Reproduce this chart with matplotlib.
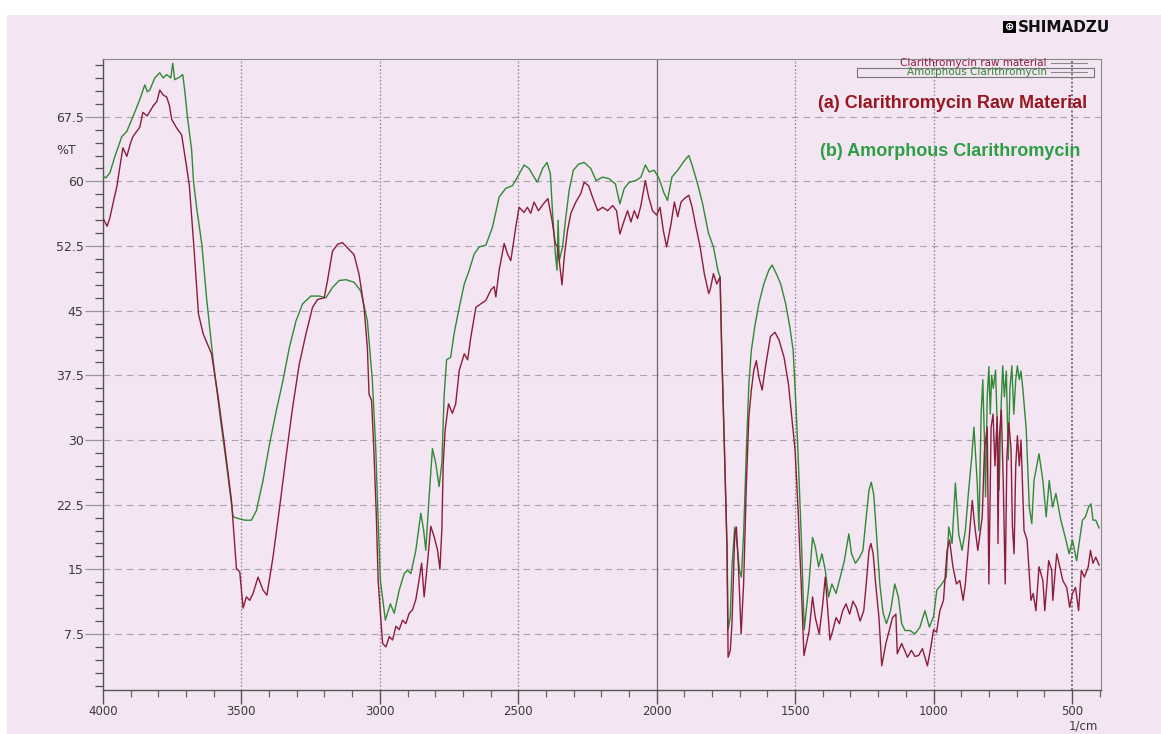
import numpy as np
import matplotlib.pyplot as plt
from matplotlib.patches import Rectangle
from matplotlib.lines import Line2D
from matplotlib.ticker import MultipleLocator

# FTIR spectra, wavenumber (1/cm) vs %T
raw_wn = [3998, 3985, 3975, 3960, 3950, 3940, 3928, 3914, 3900, 3892, 3867, 3856, 3840, 3820, 3805,
          3795, 3782, 3770, 3760, 3752, 3734, 3716, 3698, 3688, 3673, 3655, 3638, 3608, 3584, 3560,
          3536, 3518, 3506, 3494, 3482, 3470, 3458, 3440, 3422, 3408, 3386, 3362, 3339, 3315, 3291,
          3267, 3243, 3225, 3201, 3189, 3171, 3153, 3135, 3117, 3093, 3075, 3057, 3045, 3039, 3030,
          3022, 3013, 3006, 2998, 2990, 2978, 2966, 2954, 2942, 2930, 2918, 2906, 2894, 2882, 2870,
          2858, 2849, 2840, 2828, 2816, 2804, 2792, 2783, 2776, 2771, 2764, 2752, 2738, 2726, 2713,
          2695, 2683, 2671, 2653, 2635, 2617, 2599, 2587, 2581, 2569, 2551, 2539, 2527, 2509, 2497,
          2479, 2467, 2455, 2443, 2427, 2409, 2393, 2378, 2366, 2358, 2352, 2342, 2334, 2322, 2310,
          2292, 2274, 2262, 2246, 2232, 2213, 2195, 2177, 2159, 2145, 2133, 2117, 2105, 2093, 2081,
          2069, 2057, 2041, 2029, 2015, 2000, 1988, 1976, 1964, 1948, 1936, 1924, 1912, 1900, 1884,
          1872, 1858, 1850, 1843, 1828, 1812, 1807, 1795, 1783, 1771, 1765, 1755, 1746, 1742, 1734,
          1728, 1718, 1712, 1704, 1695, 1686, 1676, 1667, 1658, 1649, 1640, 1631, 1619, 1607, 1589,
          1573, 1558, 1540, 1524, 1512, 1500, 1488, 1478, 1468, 1459, 1449, 1437, 1427, 1413, 1400,
          1391, 1382, 1374, 1364, 1352, 1340, 1328, 1316, 1303, 1291, 1279, 1265, 1252, 1243, 1233,
          1226, 1218, 1209, 1197, 1187, 1172, 1160, 1148, 1136, 1131, 1115, 1094, 1080, 1067, 1054,
          1040, 1022, 1009, 1000, 989, 977, 964, 951, 942, 930, 917, 905, 893, 885, 873,
          860, 852, 840, 824, 816, 806, 800, 792, 785, 778, 770, 767, 763, 755, 748,
          741, 735, 728, 720, 715, 709, 703, 697, 690, 684, 673, 662, 648, 640, 630,
          619, 605, 598, 584, 573, 569, 555, 544, 533, 519, 508, 498, 487, 476, 466,
          455, 441, 433, 424, 414, 402]
raw_t = [55.6, 54.8, 55.8, 58.0, 59.4, 61.5, 63.9, 62.9, 64.5, 65.2, 66.3, 68.0, 67.6, 68.7, 69.3,
         70.6, 70.0, 69.8, 68.8, 67.2, 66.2, 65.4, 61.7, 59.5, 53.0, 44.6, 42.3, 40.0, 35.0, 29.2,
         23.0, 15.1, 14.7, 10.5, 11.8, 11.4, 12.2, 14.1, 12.6, 12.0, 16.4, 22.2, 28.0, 33.8, 38.8,
         42.3, 45.4, 46.3, 46.5, 48.5, 51.9, 52.7, 52.9, 52.3, 51.5, 49.2, 45.4, 40.7, 35.3, 34.6,
         29.2, 21.5, 13.7, 9.9, 6.4, 6.0, 7.2, 6.8, 8.4, 8.0, 9.1, 8.7, 9.9, 10.3, 11.5,
         13.8, 15.7, 11.8, 15.7, 20.0, 18.8, 17.3, 15.0, 19.6, 27.3, 31.2, 34.2, 33.1, 34.2, 38.1,
         40.0, 39.3, 42.0, 45.4, 45.8, 46.2, 47.4, 47.8, 46.6, 49.7, 52.8, 51.6, 50.8, 54.7, 57.0,
         56.4, 57.0, 56.3, 57.6, 56.6, 57.4, 58.0, 55.5, 52.8, 52.4, 50.8, 48.0, 51.2, 54.3, 56.3,
         57.6, 58.6, 59.9, 59.5, 58.2, 56.6, 57.0, 56.6, 57.2, 56.6, 53.9, 55.5, 56.6, 55.3, 56.6,
         55.7, 57.2, 60.1, 58.2, 56.6, 56.1, 57.0, 54.3, 52.4, 55.1, 57.6, 55.9, 57.6, 58.0, 58.4,
         57.0, 54.7, 53.5, 52.4, 49.3, 47.0, 47.4, 49.3, 48.1, 48.9, 40.4, 28.8, 17.2, 4.8, 5.6,
         8.7, 19.1, 19.9, 14.9, 7.5, 13.3, 24.9, 32.7, 35.8, 38.1, 39.2, 37.3, 35.8, 38.5, 42.0,
         42.5, 41.6, 39.6, 36.5, 32.7, 28.8, 21.1, 13.3, 5.0, 6.4, 7.9, 11.8, 9.4, 7.5, 11.0,
         14.1, 10.3, 6.8, 7.9, 9.4, 8.7, 10.2, 11.0, 9.8, 11.3, 10.6, 9.0, 10.2, 13.3, 17.2,
         18.0, 16.8, 13.3, 9.4, 3.8, 6.4, 7.9, 9.4, 9.8, 5.2, 6.4, 4.8, 5.6, 4.9, 5.0,
         5.8, 3.8, 6.1, 8.0, 7.7, 10.2, 11.4, 17.2, 18.4, 15.3, 13.3, 13.7, 11.4, 13.3, 18.0,
         23.0, 20.3, 17.2, 21.1, 28.8, 31.5, 13.3, 31.5, 33.0, 27.0, 32.7, 18.0, 30.0, 33.5, 25.0,
         13.3, 28.0, 32.0, 29.0, 20.0, 16.8, 27.0, 30.5, 27.0, 30.0, 19.5, 18.4, 11.4, 12.2, 10.2,
         15.3, 13.7, 10.2, 16.0, 14.9, 11.4, 16.8, 15.3, 13.7, 12.9, 10.6, 12.2, 12.9, 10.2, 14.9,
         14.1, 15.3, 17.2, 15.7, 16.4, 15.5]

amor_wn = [3998, 3990, 3975, 3957, 3932, 3914, 3892, 3867, 3849, 3840, 3831, 3813, 3795, 3782, 3770,
           3755, 3748, 3741, 3723, 3712, 3705, 3694, 3680, 3673, 3662, 3643, 3626, 3602, 3578, 3554,
           3530, 3512, 3488, 3464, 3446, 3422, 3398, 3374, 3350, 3327, 3303, 3279, 3249, 3219, 3195,
           3171, 3147, 3123, 3093, 3069, 3045, 3027, 3015, 3007, 2998, 2980, 2962, 2948, 2930, 2912,
           2900, 2888, 2870, 2852, 2842, 2834, 2822, 2810, 2798, 2786, 2776, 2768, 2759, 2744, 2732,
           2713, 2695, 2677, 2659, 2641, 2617, 2593, 2569, 2545, 2521, 2503, 2479, 2461, 2443, 2431,
           2412, 2396, 2384, 2376, 2366, 2360, 2356, 2352, 2340, 2328, 2316, 2301, 2282, 2262, 2238,
           2219, 2195, 2171, 2149, 2133, 2117, 2099, 2075, 2057, 2041, 2027, 2009, 1991, 1973, 1961,
           1945, 1924, 1900, 1884, 1872, 1852, 1834, 1813, 1795, 1779, 1771, 1765, 1755, 1746, 1742,
           1734, 1728, 1718, 1710, 1701, 1694, 1686, 1676, 1667, 1658, 1646, 1631, 1613, 1595, 1583,
           1568, 1552, 1534, 1519, 1507, 1495, 1485, 1476, 1467, 1451, 1437, 1427, 1415, 1403, 1391,
           1379, 1367, 1352, 1340, 1322, 1306, 1296, 1282, 1267, 1255, 1243, 1233, 1225, 1216, 1206,
           1194, 1182, 1170, 1155, 1140, 1127, 1115, 1103, 1085, 1067, 1049, 1031, 1015, 1000, 988,
           970, 954, 945, 933, 921, 909, 897, 885, 873, 862, 854, 842, 836, 828, 822,
           816, 812, 806, 800, 795, 790, 784, 776, 770, 763, 757, 750, 744, 737, 730,
           724, 717, 710, 703, 697, 690, 684, 677, 665, 654, 645, 637, 619, 605, 593,
           582, 570, 558, 540, 524, 510, 498, 483, 476, 462, 451, 440, 431, 424, 414,
           402]
amor_t = [60.6, 60.4, 61.0, 62.9, 65.2, 65.8, 67.5, 69.5, 71.2, 70.4, 70.6, 72.0, 72.6, 72.0, 72.4,
          72.0, 73.7, 71.8, 72.1, 72.4, 70.6, 67.2, 63.7, 60.0, 57.0, 52.7, 46.5, 39.2, 33.0, 27.2,
          21.1, 20.9, 20.7, 20.7, 21.8, 25.3, 29.6, 33.4, 36.9, 40.7, 43.8, 45.8, 46.7, 46.7, 46.5,
          47.7, 48.5, 48.6, 48.3, 47.3, 43.8, 36.9, 29.2, 21.5, 13.7, 9.1, 11.0, 9.9, 12.6, 14.5,
          14.9, 14.5, 17.2, 21.5, 19.6, 17.2, 23.4, 29.0, 27.3, 24.6, 27.3, 35.0, 39.3, 39.6, 42.3,
          45.4, 48.1, 49.7, 51.6, 52.4, 52.6, 54.7, 58.2, 59.2, 59.5, 60.5, 61.9, 61.5, 60.5, 59.9,
          61.5, 62.2, 60.9, 56.3, 51.6, 49.7, 55.5, 50.8, 52.4, 55.9, 59.0, 61.3, 62.0, 62.2, 61.5,
          60.1, 60.5, 60.3, 59.7, 57.4, 59.2, 59.9, 60.1, 60.5, 61.9, 61.1, 61.3, 60.3, 58.6, 57.8,
          60.5, 61.3, 62.4, 63.0, 61.9, 59.7, 57.4, 54.0, 52.4, 49.7, 48.9, 40.4, 28.8, 18.0, 8.0,
          9.5, 15.3, 19.9, 18.0, 14.9, 14.1, 19.1, 28.8, 36.5, 40.4, 43.1, 45.8, 48.1, 49.7, 50.3,
          49.3, 48.1, 45.8, 43.1, 40.4, 32.7, 24.9, 17.2, 8.0, 12.9, 18.7, 17.6, 15.3, 16.8, 14.9,
          11.8, 13.3, 12.2, 13.7, 16.0, 19.1, 16.8, 15.7, 16.4, 17.2, 21.1, 24.2, 25.1, 23.7, 19.1,
          13.3, 9.9, 8.7, 10.2, 13.3, 11.8, 8.7, 7.9, 7.9, 7.5, 8.3, 10.2, 8.3, 9.5, 12.6,
          13.3, 14.1, 19.9, 18.0, 25.0, 19.1, 17.2, 19.5, 24.2, 28.0, 31.5, 25.0, 19.5, 33.0, 37.0,
          30.0, 23.4, 35.0, 38.5, 33.0, 37.5, 36.0, 38.1, 32.0, 24.2, 33.0, 38.6, 35.0, 38.0, 27.7,
          36.0, 38.6, 33.0, 37.0, 38.6, 37.0, 38.0, 35.8, 31.2, 22.2, 20.3, 25.3, 28.4, 25.3, 21.1,
          25.3, 22.2, 23.8, 20.7, 18.7, 16.8, 18.4, 16.0, 17.6, 20.7, 21.1, 22.2, 22.6, 20.7, 20.7,
          19.8]

y_ticks = [7.5, 15, 22.5, 30, 37.5, 45, 52.5, 60, 67.5]
y_labels = ['7.5', '15', '22.5', '30', '37.5', '45', '52.5', '60', '67.5']
x_ticks = [4000, 3500, 3000, 2500, 2000, 1500, 1000, 500]

W, H = 1161, 734
pink = '#f3e5f1'
red = '#8c1d3c'
green = '#2f8a35'

fig = plt.figure(figsize=(W / 100, H / 100), dpi=100, facecolor='white')
fig.patches.append(Rectangle((7 / W, 0), 1 - 7 / W, 1 - 15 / H, transform=fig.transFigure,
                             facecolor=pink, edgecolor='none', zorder=-10))

def fx(px):
    return px / W

def fy(py):
    return 1 - py / H

ax = fig.add_axes([fx(103), fy(690), fx(1101) - fx(103), fy(59) - fy(690)])
ax.set_facecolor(pink)

# grid
for v in y_ticks:
    ax.axhline(v, color='#a9a3ae', lw=0.8, ls=(0, (6, 4.5)), zorder=1)
for v in [3500, 3000, 2500, 1500, 1000]:
    ax.axvline(v, color='#8d8895', lw=0.9, ls=(0, (1.3, 1.6)), zorder=1)
ax.axvline(500, color='#55505a', lw=1.1, ls=(0, (1.3, 1.4)), zorder=1)
ax.axvline(2000, color='#6e6a72', lw=0.9, zorder=1)

ax.plot(amor_wn, amor_t, color=green, lw=1.0, zorder=3)
ax.plot(raw_wn, raw_t, color=red, lw=1.0, zorder=4)

ax.set_xlim(4000, 395)
ax.set_ylim(1.0, 74.2)

ax.set_yticks(y_ticks)
ax.set_yticklabels(y_labels)
ax.yaxis.set_minor_locator(MultipleLocator(1.5))
ax.set_xticks(x_ticks)
ax.set_xticklabels([str(v) for v in x_ticks])
ax.xaxis.set_minor_locator(MultipleLocator(100))

ax.tick_params(axis='y', which='major', length=13, width=0.9, color='#9a96a0',
               labelsize=9, labelcolor='#3a3a3a', pad=1)
ax.tick_params(axis='y', which='minor', length=6, width=0.9, color='#555555')
ax.tick_params(axis='x', which='major', length=10, width=1.0, color='#555555',
               labelsize=8.5, labelcolor='#3a3a3a', pad=0.5)
ax.tick_params(axis='x', which='minor', length=5, width=0.9, color='#666666')

for s in ['left', 'bottom']:
    ax.spines[s].set_color('#555555')
    ax.spines[s].set_linewidth(1.0)
for s in ['top', 'right']:
    ax.spines[s].set_color('#8a8a8a')
    ax.spines[s].set_linewidth(0.8)

fig.text(fx(66), fy(150), '%T', fontsize=9, color='#3a3a3a', ha='center', va='center')
fig.text(fx(1098), fy(726), '1/cm', fontsize=8.5, color='#3a3a3a', ha='right', va='center')

# instrument legend
fig.text(fx(1047), fy(63), 'Clarithromycin raw material', fontsize=7.5, color=red,
         ha='right', va='center')
fig.text(fx(1047), fy(72), 'Amorphous Clarithromycin', fontsize=7.5, color=green,
         ha='right', va='center')
fig.lines.append(Line2D([fx(1051), fx(1087)], [fy(63), fy(63)], transform=fig.transFigure,
                        color='#8a8a8a', lw=0.8))
fig.lines.append(Line2D([fx(1051), fx(1087)], [fy(72), fy(72)], transform=fig.transFigure,
                        color='#8a8a8a', lw=0.8))
fig.patches.append(Rectangle((fx(857), fy(77)), fx(1094) - fx(857), fy(68) - fy(77),
                             transform=fig.transFigure, facecolor='none',
                             edgecolor='#777777', lw=0.8))

narrow = ['Liberation Sans Narrow', 'Liberation Sans', 'DejaVu Sans']
fig.text(fx(953), fy(103), '(a) Clarithromycin Raw Material', fontsize=13, fontweight='bold',
         family=narrow, color='#98161f', ha='center', va='center')
fig.text(fx(950), fy(152), '(b) Amorphous Clarithromycin', fontsize=13, fontweight='bold',
         family=narrow, color='#2e9e45', ha='center', va='center')

# maker's logo
fig.patches.append(Rectangle((fx(1003), fy(33)), fx(1016) - fx(1003), fy(21) - fy(33),
                             transform=fig.transFigure, facecolor='black', edgecolor='none'))
fig.text(fx(1009.5), fy(27), '\u2295', fontsize=8, color='white', ha='center', va='center',
         fontweight='bold')
fig.text(fx(1110), fy(27.5), 'SHIMADZU', fontsize=11, fontweight='bold', color='#111111',
         ha='right', va='center')

fig.savefig('out.png', dpi=100, facecolor=fig.get_facecolor())
